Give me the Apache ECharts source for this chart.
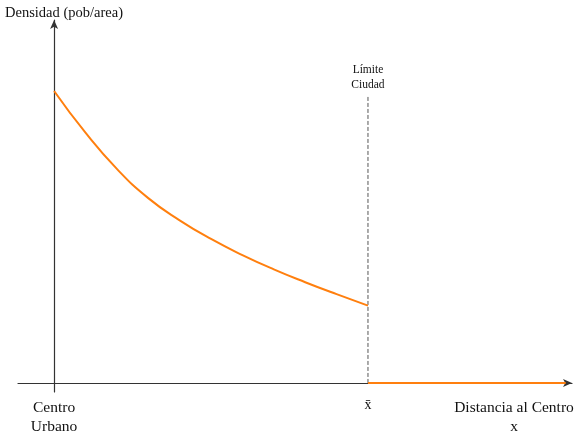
<!DOCTYPE html>
<html><head><meta charset="utf-8">
<script src="https://cdn.jsdelivr.net/npm/echarts@6/dist/echarts.min.js"></script>
<style>html,body{margin:0;padding:0;background:#fff}#c{width:577px;height:431px}</style>
</head><body><div id="c"></div>
<script>
const distX = [0, 1, 2, 3, 4, 5, 6, 7, 8, 9, 10];
const densidad = [10, 8.57, 7.33, 6.33, 5.57, 4.93, 4.38, 3.89, 3.45, 3.04, 2.65];
const afueraX = [10, 16.3];
const afueraY = [0, 0];
const limiteX = 10;
const limiteTop = 9.86;
const yAxisTitle = 'Densidad (pob/area)';
const limiteLabel = 'Límite\nCiudad';
const origenLabel = 'Centro\nUrbano';
const xbarLabel = 'x̄';
const xAxisTitle = 'Distancia al Centro\nx';

const serif = '"Liberation Serif", "DejaVu Serif", serif';
const chart = echarts.init(document.getElementById('c'));
chart.setOption({
  animation: false,
  grid: {left: 18, right: 5, top: 20, bottom: 39},
  xAxis: {
    type: 'value', min: -1.15, max: 16.5,
    axisLine: {show: true, onZero: true, symbol: ['none', 'arrow'], symbolSize: [6, 9], lineStyle: {color: '#333', width: 1.2}},
    axisTick: {show: false}, axisLabel: {show: false}, splitLine: {show: false}
  },
  yAxis: {
    type: 'value', min: -0.31, max: 12.43,
    axisLine: {show: true, onZero: true, symbol: ['none', 'arrow'], symbolSize: [6, 9], lineStyle: {color: '#333', width: 1.2}},
    axisTick: {show: false}, axisLabel: {show: false}, splitLine: {show: false}
  },
  series: [
    {type: 'line', data: distX.map((x, i) => [x, densidad[i]]), smooth: 0.5, symbol: 'none',
     lineStyle: {color: '#ff7f0e', width: 2}, z: 3},
    {type: 'line', data: afueraX.map((x, i) => [x, afueraY[i]]), symbol: 'none',
     lineStyle: {color: '#ff7f0e', width: 2}, z: 3},
    {type: 'line', data: [[limiteX, 0], [limiteX, limiteTop]], symbol: 'none',
     lineStyle: {color: '#555', width: 1, type: [4, 2]}, z: 2}
  ]
});
const p0 = chart.convertToPixel({gridIndex: 0}, [0, 0]);
const pL = chart.convertToPixel({gridIndex: 0}, [limiteX, limiteTop]);
chart.setOption({
  graphic: [
    {type: 'text', left: 5, top: 6, style: {text: yAxisTitle, font: '14.5px ' + serif, fill: '#111'}},
    {type: 'text', x: pL[0], y: pL[1] - 3, style: {text: limiteLabel, font: '11.5px ' + serif, fill: '#111', textAlign: 'center', textVerticalAlign: 'bottom', lineHeight: 15}},
    {type: 'text', x: p0[0], y: p0[1] + 15, style: {text: origenLabel, font: '15.5px ' + serif, fill: '#111', textAlign: 'center', textVerticalAlign: 'top', lineHeight: 19}},
    {type: 'text', x: pL[0], y: p0[1] + 15, style: {text: xbarLabel, font: '14px ' + serif, fill: '#111', textAlign: 'center', textVerticalAlign: 'top'}},
    {type: 'text', x: 514, y: p0[1] + 15, style: {text: xAxisTitle, font: '15.5px ' + serif, fill: '#111', textAlign: 'center', textVerticalAlign: 'top', lineHeight: 19}}
  ]
});
</script></body></html>
